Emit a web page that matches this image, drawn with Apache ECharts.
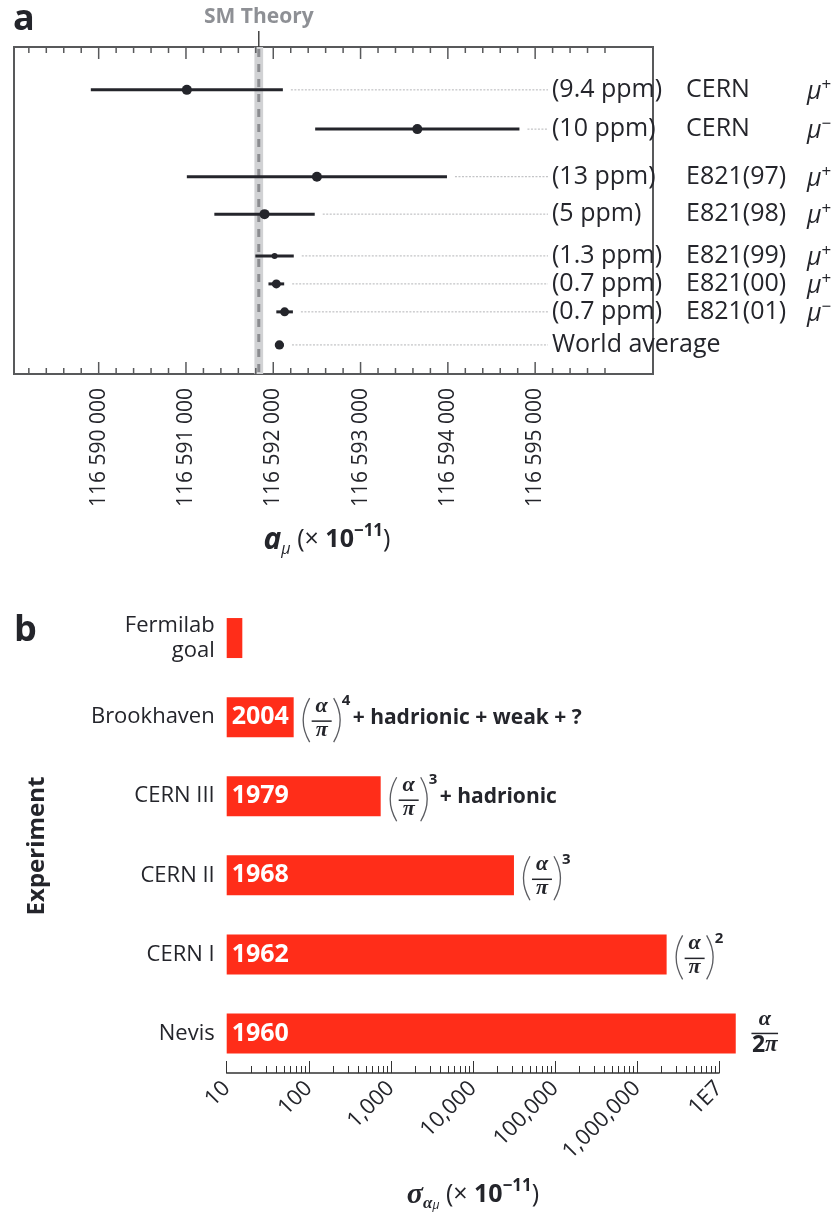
<!DOCTYPE html>
<html><head><meta charset="utf-8">
<script src="https://cdn.jsdelivr.net/npm/echarts@6/dist/echarts.min.js"></script>
<style>html,body{margin:0;padding:0;background:#fff}#c{width:838px;height:1220px}</style>
</head><body><div id="c"></div>
<script>
// ---------- Panel a data ----------
const experimentsA = ['CERN', 'CERN', 'E821(97)', 'E821(98)', 'E821(99)', 'E821(00)', 'E821(01)', 'World average'];
const precisionA   = ['(9.4 ppm)', '(10 ppm)', '(13 ppm)', '(5 ppm)', '(1.3 ppm)', '(0.7 ppm)', '(0.7 ppm)', ''];
const chargeA      = ['+', '\u2212', '+', '+', '+', '+', '\u2212', ''];
const amuValues    = [116591010, 116593650, 116592500, 116591900, 116592015, 116592035, 116592130, 116592070];
const amuErrors    = [1100, 1170, 1490, 575, 220, 90, 95, 50];
const smTheory     = 116591834;
const smBand       = 50;
const amuTicks     = [116590000, 116591000, 116592000, 116593000, 116594000, 116595000];

// ---------- Panel b data ----------
const experimentsB   = ['Fermilab\ngoal', 'Brookhaven', 'CERN III', 'CERN II', 'CERN I', 'Nevis'];
const yearsB         = ['', '2004', '1979', '1968', '1962', '1960'];
const sigmaValues    = [15.5, 65.5, 753, 31700, 2300000, 16000000];
const formulaForm    = ['', 'paren', 'paren', 'paren', 'paren', 'half'];
const formulaPower   = ['', '4', '3', '3', '2', ''];
const formulaExtra   = ['', '+ hadrionic + weak + ?', '+ hadrionic', '', '', ''];
const sigmaTicks     = [10, 100, 1000, 10000, 100000, 1000000, 10000000];
const sigmaTickLabels = ['10', '100', '1,000', '10,000', '100,000', '1,000,000', '1E7'];

// ---------- layout / style ----------
const FONT = '"Open Sans", "Noto Sans", sans-serif';
const SERIF = '"Liberation Serif", "DejaVu Serif", serif';
const ink = '#24252b';
const rowSlot = [1.18, 2.26, 3.57, 4.60, 5.75, 6.52, 7.29, 8.20];
const dotR = [5, 5, 5, 5, 3, 4.5, 4.5, 4.6];
const COL = [552, 686, 807];
const BAR_W = 40;

const amuMinor = [];
for (let v = 116589200; v <= 116595800; v += 200) if (v % 1000 !== 0) amuMinor.push(v);
const sigmaMinor = [];
for (let d = 10; d < 1e7; d *= 10) for (let k = 2; k <= 9; k++) sigmaMinor.push(k * d);

const amuFmt = v => String(Math.round(v)).replace(/\B(?=(\d{3})+(?!\d))/g, ' ');

const chart = echarts.init(document.getElementById('c'), null, {renderer: 'canvas'});

function axisB(ticks, len, labels) {
  return {
    gridIndex: 1, type: 'log', logBase: 10, min: 10, max: 1e7, position: 'bottom',
    axisLine: {show: labels, lineStyle: {color: '#333', width: 1.5}}, splitLine: {show: false},
    axisTick: {show: true, inside: true, length: len, customValues: ticks, lineStyle: {color: '#333', width: 1}},
    axisLabel: labels ? {show: true, customValues: ticks, rotate: 45, margin: 12, fontSize: 22, color: ink, fontFamily: FONT,
      formatter: v => sigmaTickLabels[Math.round(Math.log10(v)) - 1]} : {show: false}
  };
}

function bez(x1, y1, cx, cy, x2, y2) {
  return {type: 'bezierCurve', shape: {x1, y1, x2, y2, cpx1: cx, cpy1: cy}, style: {stroke: '#5a5b60', lineWidth: 1.3, fill: 'none'}};
}

const option = {
  animation: false,
  textStyle: {fontFamily: FONT},
  grid: [
    {left: 14, top: 47, width: 639, height: 327, show: true, borderColor: '#58595b', borderWidth: 2, backgroundColor: 'transparent'},
    {left: 226.7, top: 598.5, width: 492.3, height: 474.5}
  ],
  xAxis: [
    {gridIndex: 0, type: 'value', min: 116589030, max: 116596350, position: 'bottom',
      axisLine: {show: false}, splitLine: {show: false}, axisTick: {show: false},
      axisLabel: {show: true, customValues: amuTicks, rotate: 90, margin: 14, fontSize: 21, color: ink, fontFamily: FONT, formatter: amuFmt}},
    axisB(sigmaTicks, 12, true),
    axisB(sigmaMinor, 7, false)
  ],
  yAxis: [
    {gridIndex: 0, type: 'value', min: 0, max: 9, inverse: true, show: false},
    {gridIndex: 1, type: 'category', data: experimentsB, inverse: true,
      axisLine: {show: false}, axisTick: {show: false},
      axisLabel: {fontSize: 22, color: ink, margin: 12, lineHeight: 25, fontFamily: FONT}}
  ],
  series: [
    { // SM theory band
      type: 'custom', xAxisIndex: 0, yAxisIndex: 0, z: 1,
      data: [[smTheory, smBand]], encode: {x: 0},
      renderItem(params, api) {
        const cs = params.coordSys;
        const c = api.coord([api.value(0), 0])[0];
        const l = api.coord([api.value(0) - api.value(1), 0])[0];
        const r = api.coord([api.value(0) + api.value(1), 0])[0];
        return {type: 'group', children: [
          {type: 'rect', shape: {x: l, y: cs.y, width: r - l, height: cs.height}, style: {fill: '#d1d2d4'}},
          {type: 'line', shape: {x1: c, y1: cs.y + 2, x2: c, y2: cs.y + cs.height}, style: {stroke: '#8b8c90', lineWidth: 3, lineDash: [8, 7]}},
          {type: 'line', shape: {x1: c, y1: cs.y - 16, x2: c, y2: cs.y}, style: {stroke: '#444', lineWidth: 1.5}},
          {type: 'text', style: {text: 'SM Theory', x: c, y: cs.y - 29.5, align: 'center', verticalAlign: 'middle', fill: '#8e9095', font: 'bold 21px ' + FONT}}
        ]};
      }
    },
    { // axis ticks of panel a (top and bottom edges, pointing inward)
      type: 'custom', xAxisIndex: 0, yAxisIndex: 0, z: 2, silent: true,
      data: amuTicks.map(v => [v, 12]).concat(amuMinor.map(v => [v, 6])), encode: {x: 0},
      renderItem(params, api) {
        const cs = params.coordSys;
        const x = api.coord([api.value(0), 0])[0];
        const len = api.value(1);
        const st = {stroke: '#58595b', lineWidth: 1.5};
        return {type: 'group', children: [
          {type: 'line', shape: {x1: x, y1: cs.y, x2: x, y2: cs.y + len}, style: st},
          {type: 'line', shape: {x1: x, y1: cs.y + cs.height, x2: x, y2: cs.y + cs.height - len}, style: st}
        ]};
      }
    },
    { // measurements
      type: 'custom', xAxisIndex: 0, yAxisIndex: 0, z: 3,
      data: amuValues.map((v, i) => [v, amuErrors[i], rowSlot[i]]), encode: {x: 0, y: 2},
      renderItem(params, api) {
        const i = params.dataIndex;
        const c = api.value(0), e = api.value(1), y = api.value(2);
        const pc = api.coord([c, y]), pl = api.coord([c - e, y]), pr = api.coord([c + e, y]);
        const r = dotR[i];
        const ch = [];
        ch.push({type: 'line', shape: {x1: pl[0], y1: pc[1], x2: pr[0], y2: pc[1]}, style: {stroke: ink, lineWidth: 3}});
        ch.push({type: 'circle', shape: {cx: pc[0], cy: pc[1], r}, style: {fill: ink}});
        const lx = Math.max(pr[0], pc[0] + r) + 8;
        ch.push({type: 'line', shape: {x1: lx, y1: pc[1], x2: COL[0] - 4, y2: pc[1]}, style: {stroke: '#b4b5b8', lineWidth: 1, lineDash: [2, 1.5]}});
        const tf = '25px ' + FONT;
        if (precisionA[i]) {
          ch.push({type: 'text', style: {text: precisionA[i], x: COL[0], y: pc[1], align: 'left', verticalAlign: 'middle', fill: ink, font: tf}});
          ch.push({type: 'text', style: {text: experimentsA[i], x: COL[1], y: pc[1], align: 'left', verticalAlign: 'middle', fill: ink, font: tf}});
        } else {
          ch.push({type: 'text', style: {text: experimentsA[i], x: COL[0], y: pc[1], align: 'left', verticalAlign: 'middle', fill: ink, font: tf}});
        }
        if (chargeA[i]) {
          ch.push({type: 'text', style: {text: '{m|\u03bc}{s|' + chargeA[i] + '}', x: COL[2], y: pc[1] + 2, align: 'left', verticalAlign: 'middle', fill: ink,
            rich: {m: {fontSize: 25, fontStyle: 'italic', lineHeight: 30, fontFamily: FONT, color: ink},
                   s: {fontSize: 17, lineHeight: 17, verticalAlign: 'top', fontFamily: FONT, color: ink}}}});
        }
        return {type: 'group', children: ch};
      }
    },
    { // precision bars (drawn from the axis start through the log scale)
      type: 'custom', xAxisIndex: 1, yAxisIndex: 1, z: 3,
      data: sigmaValues.map((v, i) => [v, i]), encode: {x: 0, y: 1},
      renderItem(params, api) {
        const i = params.dataIndex;
        const cs = params.coordSys;
        const p = api.coord([api.value(0), api.value(1)]);
        const ch = [{type: 'rect', shape: {x: cs.x, y: p[1] - BAR_W / 2, width: p[0] - cs.x, height: BAR_W}, style: {fill: '#ff2d19'}}];
        if (yearsB[i]) {
          ch.push({type: 'text', style: {text: yearsB[i], x: cs.x + 5, y: p[1], align: 'left', verticalAlign: 'middle', fill: '#fff', font: 'bold 25px ' + FONT}});
        }
        return {type: 'group', children: ch};
      }
    },
    { // theory formulas
      type: 'custom', xAxisIndex: 1, yAxisIndex: 1, z: 4,
      data: sigmaValues.map((v, i) => [v, i]), encode: {x: 0, y: 1},
      renderItem(params, api) {
        const i = params.dataIndex;
        const form = formulaForm[i];
        if (!form) return null;
        const p = api.coord([api.value(0), api.value(1)]);
        const X = p[0], Y = p[1];
        const ch = [];
        const gf = 'italic bold 22px ' + SERIF;
        if (form === 'paren') {
          const x0 = X + 9, cy = Y + 3;
          ch.push(bez(x0 + 7, cy - 22, x0 - 6, cy, x0 + 7, cy + 22));
          ch.push(bez(x0 + 31, cy - 22, x0 + 44, cy, x0 + 31, cy + 22));
          ch.push({type: 'text', style: {text: '\u03b1', x: x0 + 19, y: cy - 14, align: 'center', verticalAlign: 'middle', fill: ink, font: gf}});
          ch.push({type: 'line', shape: {x1: x0 + 9, y1: cy + 1, x2: x0 + 29, y2: cy + 1}, style: {stroke: ink, lineWidth: 1.5}});
          ch.push({type: 'text', style: {text: '\u03c0', x: x0 + 19, y: cy + 10, align: 'center', verticalAlign: 'middle', fill: ink, font: gf}});
          ch.push({type: 'text', style: {text: formulaPower[i], x: x0 + 39, y: cy - 19, align: 'left', verticalAlign: 'middle', fill: ink, font: 'bold 15px ' + FONT}});
          if (formulaExtra[i]) {
            ch.push({type: 'text', style: {text: formulaExtra[i], x: x0 + 50, y: Y + 1, align: 'left', verticalAlign: 'middle', fill: ink, font: 'bold 21px ' + FONT}});
          }
        } else {
          const xc = X + 29;
          ch.push({type: 'line', shape: {x1: xc - 13.3, y1: Y, x2: xc + 13.3, y2: Y}, style: {stroke: ink, lineWidth: 1.5}});
          ch.push({type: 'text', style: {text: '\u03b1', x: xc, y: Y - 14, align: 'center', verticalAlign: 'middle', fill: ink, font: gf}});
          ch.push({type: 'text', style: {text: '{n|2}{g|\u03c0}', x: xc, y: Y + 12, align: 'center', verticalAlign: 'middle', fill: ink,
            rich: {n: {fontSize: 23, fontWeight: 'bold', fontFamily: FONT, lineHeight: 26, color: ink},
                   g: {fontSize: 23, fontWeight: 'bold', fontStyle: 'italic', fontFamily: SERIF, lineHeight: 26, color: ink}}}});
        }
        return {type: 'group', children: ch};
      }
    }
  ],
  graphic: [
    {type: 'text', x: 13, y: 19.5, style: {text: 'a', font: 'bold 36px ' + FONT, fill: ink, verticalAlign: 'middle'}},
    {type: 'text', x: 14, y: 631, style: {text: 'b', font: 'bold 36px ' + FONT, fill: ink, verticalAlign: 'middle'}},
    {type: 'text', x: 327, y: 540, style: {
      text: '{a|a}{s|\u03bc}{r| (\u00d7 }{b|10}{p|\u221211}{r|)}', align: 'center', verticalAlign: 'middle', fill: ink,
      rich: {
        a: {fontSize: 30, fontWeight: 'bold', fontStyle: 'italic', lineHeight: 34, fontFamily: FONT, color: ink},
        s: {fontSize: 16, fontStyle: 'italic', lineHeight: 14, verticalAlign: 'bottom', fontFamily: FONT, color: ink},
        r: {fontSize: 25, lineHeight: 34, fontFamily: FONT, color: ink},
        b: {fontSize: 25, fontWeight: 'bold', lineHeight: 34, fontFamily: FONT, color: ink},
        p: {fontSize: 17, fontWeight: 'bold', lineHeight: 17, verticalAlign: 'top', fontFamily: FONT, color: ink}
      }}},
    {type: 'text', x: 473, y: 1195, style: {
      text: '{a|\u03c3}{s|\u03b1}{t|\u03bc}{r| (\u00d7 }{b|10}{p|\u221211}{r|)}', align: 'center', verticalAlign: 'middle', fill: ink,
      rich: {
        a: {fontSize: 30, fontWeight: 'bold', fontStyle: 'italic', lineHeight: 34, fontFamily: SERIF, color: ink},
        s: {fontSize: 17, fontStyle: 'italic', fontWeight: 'bold', lineHeight: 18, verticalAlign: 'bottom', fontFamily: SERIF, color: ink},
        t: {fontSize: 12, fontStyle: 'italic', lineHeight: 9, verticalAlign: 'bottom', fontFamily: FONT, color: ink},
        r: {fontSize: 25, lineHeight: 34, fontFamily: FONT, color: ink},
        b: {fontSize: 25, fontWeight: 'bold', lineHeight: 34, fontFamily: FONT, color: ink},
        p: {fontSize: 17, fontWeight: 'bold', lineHeight: 17, verticalAlign: 'top', fontFamily: FONT, color: ink}
      }}},
    {type: 'text', x: 36.7, y: 846, rotation: Math.PI / 2, style: {text: 'Experiment', font: 'bold 24px ' + FONT, fill: ink, align: 'center', verticalAlign: 'middle'}}
  ]
};
chart.setOption(option);
</script>
</body></html>
